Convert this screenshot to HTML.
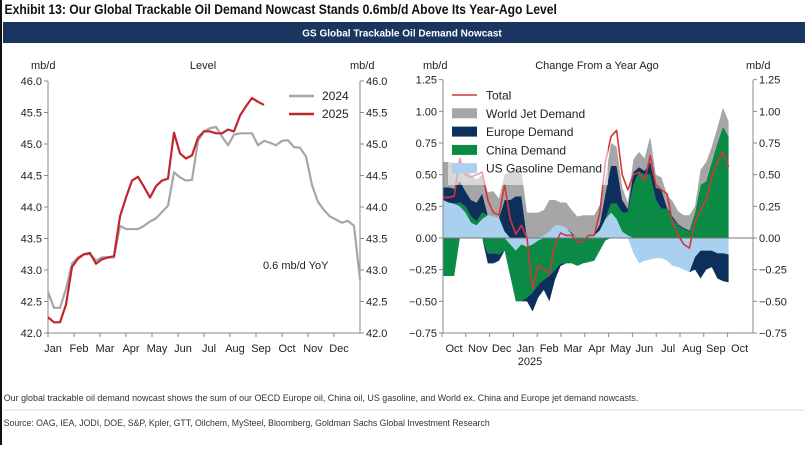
<!DOCTYPE html>
<html><head><meta charset="utf-8"><style>
body{margin:0;background:#fff;width:805px;height:445px;overflow:hidden;font-family:"Liberation Sans",sans-serif}
svg text{font-family:"Liberation Sans",sans-serif}
</style></head><body>
<svg id="c" width="805" height="445">
<rect x="0" y="0" width="2" height="445" fill="#111"/>
<text x="5" y="14" font-size="13.5" font-weight="bold" fill="#111" transform="scale(0.9,1)">Exhibit 13: Our Global Trackable Oil Demand Nowcast Stands 0.6mb/d Above Its Year-Ago Level</text>
<rect x="3" y="22" width="802" height="21" fill="#1a3560"/>
<text x="402" y="36.5" font-size="10" font-weight="bold" fill="#fff" text-anchor="middle">GS Global Trackable Oil Demand Nowcast</text>
<g id="L"></g><g id="R"></g>
<text x="4" y="401" font-size="9.5" fill="#333" transform="scale(0.94,1)">Our global trackable oil demand nowcast shows the sum of our OECD Europe oil, China oil, US gasoline, and World ex. China and Europe jet demand nowcasts.</text>
<line x1="3" y1="410" x2="805" y2="410" stroke="#ddd"/>
<text x="4" y="426" font-size="9.5" fill="#333" transform="scale(0.92,1)">Source: OAG, IEA, JODI, DOE, S&amp;P, Kpler, GTT, Oilchem, MySteel, Bloomberg, Goldman Sachs Global Investment Research</text>
</svg>
<script>
const levelTicks=[42.0,42.5,43.0,43.5,44.0,44.5,45.0,45.5,46.0];
const monthsL=["Jan","Feb","Mar","Apr","May","Jun","Jul","Aug","Sep","Oct","Nov","Dec"];
const y2024=[42.65,42.4,42.4,42.7,43.1,43.2,43.25,43.25,43.15,43.2,43.2,43.2,43.7,43.65,43.65,43.65,43.7,43.77,43.82,43.92,44.02,44.55,44.47,44.42,44.43,45.05,45.2,45.25,45.27,45.12,44.98,45.15,45.17,45.17,45.17,44.98,45.05,45.02,44.98,45.05,45.06,44.95,44.94,44.8,44.35,44.08,43.95,43.85,43.8,43.75,43.78,43.7,42.85];
const y2025=[42.25,42.17,42.17,42.45,43.05,43.18,43.25,43.27,43.1,43.17,43.2,43.22,43.85,44.15,44.42,44.48,44.32,44.15,44.33,44.42,44.45,45.18,44.85,44.77,44.82,45.1,45.2,45.2,45.17,45.17,45.23,45.2,45.45,45.6,45.73,45.67,45.62];
const chgTicks=[-0.75,-0.5,-0.25,0,0.25,0.5,0.75,1.0,1.25];
const chgTickLabels=["\u22120.75","\u22120.50","\u22120.25","0.00","0.25","0.50","0.75","1.00","1.25"];
const monthsR=["Oct","Nov","Dec","Jan","Feb","Mar","Apr","May","Jun","Jul","Aug","Sep","Oct"];
const gas=[.3,.28,.27,.25,.2,.12,.1,.15,.18,.17,.16,.05,-.05,-.1,-.05,-.07,-.05,-.02,.02,.05,.1,.1,.08,.03,0,0,.01,.02,.06,.15,.2,.15,.05,.02,-.12,-.2,-.18,-.17,-.16,-.16,-.18,-.22,-.23,-.25,-.27,-.15,-.1,-.1,-.1,-.12,-.12,-.13];
const china=[-.3,-.3,-.3,.03,.05,.05,.03,.05,-.12,-.12,-.13,-.1,-.25,-.4,-.45,-.4,-.38,-.35,-.33,-.3,-.25,-.2,-.2,-.2,-.22,-.2,-.19,-.18,-.1,-.02,.07,.12,.15,.18,.42,.52,.5,.5,.3,.23,.23,.15,.1,.07,.05,.2,.42,.45,.6,.75,.88,.8];
const europe=[.1,.12,.12,.17,.12,.13,.15,.15,-.08,-.08,-.05,.25,.3,.33,.33,-.03,-.15,-.1,-.08,-.2,-.08,-.02,0,.01,0,0,0,.01,.05,.2,.3,.3,.1,.03,.1,.04,.03,.1,.1,.15,.01,.02,.01,.01,.01,-.1,-.22,-.15,-.13,-.2,-.22,-.22];
const jet=[.2,.2,.2,.15,.2,.2,.18,.15,.18,.2,.15,.2,.22,.22,.2,.2,.2,.2,.2,.25,.2,.18,.2,.18,.17,.18,.17,.15,.15,.12,.18,.15,.1,.05,.1,.12,.1,.2,.1,.1,.1,.12,.1,.1,.12,.05,.12,.15,.12,.12,.15,.12];
const total=[.32,.32,.33,.63,.5,.48,.5,.52,.3,.2,.18,.42,.15,.03,.1,0,-.4,-.22,-.25,-.28,-.05,.04,.02,.02,-.03,-.03,.02,.02,.2,.6,.8,.85,.5,.38,.5,.52,.45,.65,.42,.38,.35,.12,.02,-.05,-.08,.13,.22,.3,.48,.6,.68,.56];

const NS="http://www.w3.org/2000/svg";
function mk(p,t,a){const e=document.createElementNS(NS,t);for(const k in a)e.setAttribute(k,a[k]);p.appendChild(e);return e;}
function txt(p,x,y,s,a){const e=mk(p,"text",Object.assign({x:x,y:y,"font-size":11,fill:"#222"},a||{}));e.textContent=s;return e;}

// LEFT
const L=document.getElementById("L");
const lx0=48,lx1=360,ly=v=>333-(v-42)*63;const lxw=w=>lx0+w*6;
mk(L,"line",{x1:lx0,y1:81,x2:lx0,y2:333,stroke:"#888"});
mk(L,"line",{x1:lx1,y1:81,x2:lx1,y2:333,stroke:"#888"});
mk(L,"line",{x1:lx0,y1:333,x2:lx1,y2:333,stroke:"#888"});
levelTicks.forEach(v=>{
 const t1=mk(L,"line",{x1:lx0-4,y1:ly(v),x2:lx0,y2:ly(v),stroke:"#888"});
 
 const t2=mk(L,"line",{x1:lx1,y1:ly(v),x2:lx1+4,y2:ly(v),stroke:"#888"});
 
 const a=txt(L,lx0-6,ly(v)+4,v.toFixed(1),{"text-anchor":"end"});
 
 const b=txt(L,lx1+6,ly(v)+4,v.toFixed(1));
 
});
monthsL.forEach((m,i)=>{
 const x=lx0+i*26;
 mk(L,"line",{x1:x,y1:333,x2:x,y2:337,stroke:"#888"});
 const t=txt(L,x+5,352,m,{"text-anchor":"middle"});
 
});
txt(L,31,69,"mb/d");
txt(L,203,69,"Level",{"text-anchor":"middle"});
txt(L,350,69,"mb/d");
function poly(p,arr,fx,fy,col,w){return mk(p,"polyline",{points:arr.map((v,i)=>fx(i)+","+fy(v)).join(" "),fill:"none",stroke:col,"stroke-width":w,"stroke-linejoin":"round"});}
const l24=poly(L,y2024,lxw,ly,"#a6a6a6",2.2);

const l25=poly(L,y2025,lxw,ly,"#c0272d",2.2);

mk(L,"line",{x1:289,y1:96,x2:314,y2:96,stroke:"#a6a6a6","stroke-width":2.5});
txt(L,322,100,"2024",{"font-size":12});
mk(L,"line",{x1:289,y1:114,x2:314,y2:114,stroke:"#c0272d","stroke-width":2.5});
txt(L,322,118,"2025",{"font-size":12});
txt(L,263,269,"0.6 mb/d YoY");

// RIGHT
const R=document.getElementById("R");
const rx0=443,rx1=753,ry=v=>238-v*126.67;const rxw=i=>rx0+i*5.6;
const series=[{d:gas,c:"#a9d1ef",n:"area-us-gasoline"},{d:china,c:"#0a8a45",n:"area-china"},{d:europe,c:"#0c2f5c",n:"area-europe"},{d:jet,c:"#a6a6a6",n:"area-world-jet"}];
const N=total.length;let posB=new Array(N).fill(0),negB=new Array(N).fill(0);
series.forEach(s=>{
 [1,-1].forEach(sign=>{
  const base=sign>0?posB:negB;const top=base.map((b,i)=>{const v=s.d[i];return (sign>0?v>0:v<0)?b+v:b;});
  let pts=top.map((v,i)=>rxw(i)+","+ry(v));
  for(let i=N-1;i>=0;i--)pts.push(rxw(i)+","+ry(base[i]));
  const p=mk(R,"polygon",{points:pts.join(" "),fill:s.c});
  
  if(sign>0)posB=top;else negB=top;
 });
});
mk(R,"line",{x1:rx0,y1:ry(0),x2:rx1,y2:ry(0),stroke:"#777"});
const tl=poly(R,total,rxw,ry,"#d0373d",1.6);

mk(R,"line",{x1:rx0,y1:80,x2:rx0,y2:333,stroke:"#888"});
mk(R,"line",{x1:rx1,y1:80,x2:rx1,y2:333,stroke:"#888"});
mk(R,"line",{x1:rx0,y1:333,x2:rx1,y2:333,stroke:"#888"});
chgTicks.forEach((v,i)=>{
 mk(R,"line",{x1:rx0-4,y1:ry(v),x2:rx0,y2:ry(v),stroke:"#888"});
 mk(R,"line",{x1:rx1,y1:ry(v),x2:rx1+4,y2:ry(v),stroke:"#888"});
 const a=txt(R,rx0-6,ry(v)+4,chgTickLabels[i],{"text-anchor":"end"});
 
 const b=txt(R,rx1+6,ry(v)+4,chgTickLabels[i]);
 
});
monthsR.forEach((m,i)=>{
 const x=442+i*23.8;
 mk(R,"line",{x1:x,y1:333,x2:x,y2:337,stroke:"#888"});
 const t=txt(R,x+12,352,m,{"text-anchor":"middle"});
 
});
txt(R,530,365,"2025",{"text-anchor":"middle"});
txt(R,423,69,"mb/d");
txt(R,597,69,"Change From a Year Ago",{"text-anchor":"middle"});
txt(R,746,69,"mb/d");
mk(R,"rect",{x:448,y:87,width:160,height:98,fill:"rgba(255,255,255,0.55)"});
const leg=[["Total","line","#d0373d"],["World Jet Demand","box","#a6a6a6"],["Europe Demand","box","#0c2f5c"],["China Demand","box","#0a8a45"],["US Gasoline Demand","box","#a9d1ef"]];
leg.forEach((l,i)=>{
 const y=95+i*18.3;
 if(l[1]=="line")mk(R,"line",{x1:452,y1:y,x2:477,y2:y,stroke:l[2],"stroke-width":1.6});
 else mk(R,"rect",{x:452,y:y-5,width:25,height:10,fill:l[2]});
 const t=txt(R,486,y+4.5,l[0],{"font-size":12});
 
});
</script>
</body></html>
